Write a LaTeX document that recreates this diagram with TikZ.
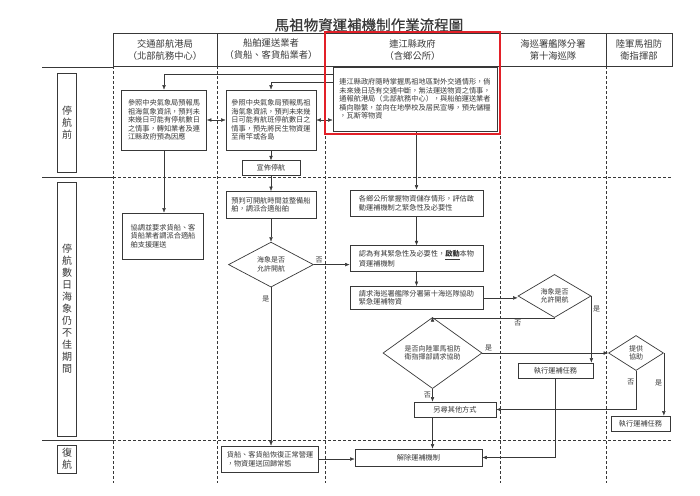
\documentclass[tikz,border=0pt]{standalone}
\usepackage{fontspec}
\setmainfont{Noto Sans CJK TC}
\usepackage{tikz}
\usetikzlibrary{shapes.geometric, arrows.meta, positioning}
\definecolor{ink}{gray}{0.22}
\definecolor{hilite}{RGB}{226,32,40}

\begin{document}
\begin{tikzpicture}[x=1pt, y=-1pt, color=ink,
    >={Latex[length=4.5pt, width=3.6pt]},
    box/.style={draw, line width=0.7pt, inner sep=2pt, align=left, font=\fontsize{7.2}{8.6}\selectfont},
    decision/.style={diamond, draw, line width=0.7pt, inner sep=0pt, align=center, font=\fontsize{7}{8.6}\selectfont},
    head/.style={draw, line width=0.8pt, outer sep=0pt, minimum height=33pt, align=center, font=\fontsize{9.3}{12}\selectfont},
    phase/.style={draw, line width=0.8pt, minimum width=19pt, align=center, font=\fontsize{10}{12}\selectfont},
    lane/.style={line width=0.7pt, dash pattern=on 3pt off 2pt},
    tag/.style={font=\fontsize{7}{8}\selectfont, inner sep=1.5pt}]
			\useasboundingbox (0,0) rectangle (700,495);
			
			% Title
			\node[font=\fontsize{14.5}{16}\selectfont\addfontfeature{FakeBold=0.6}] (title) at (369, 25) {馬祖物資運補機制作業流程圖};
			
			% Lane heads
			\node[head, minimum width=104pt] (h1) at (165, 49.5) {交通部航港局\\（北部航務中心）};
			\node[head, minimum width=108pt] (h2) at (271, 49.5) {船舶運送業者\\（貨船、客貨船業者）};
			\node[head, minimum width=175pt] (h3) at (412.5, 49.5) {連江縣政府\\（含鄉公所）};
			\node[head, minimum width=106pt] (h4) at (553, 49.5) {海巡署艦隊分署\\第十海巡隊};
			\node[head, minimum width=66pt] (h5) at (639, 49.5) {陸軍馬祖防\\衛指揮部};
			
			% Phases
			\node[phase, minimum height=99pt] (p1) at (67, 122.5) {停\\航\\前};
			\node[phase, minimum height=254pt] (p2) at (67, 309) {停\\航\\數\\日\\海\\象\\仍\\不\\佳\\期\\間};
			\node[phase, minimum height=28pt] (p3) at (67, 459) {復\\航};
			
			% Rules and lanes
			\draw[line width=0.7pt] (42, 67) -- (113, 67);
			\draw[line width=0.7pt] (42, 177) -- (113, 177);
			\draw[line width=0.7pt] (42, 440) -- (113, 440);
			\draw[lane] (113, 177) -- (672, 177);
			\draw[lane] (113, 440) -- (672, 440);
			\draw[lane] (113, 66) -- (113, 483);
			\draw[lane] (217, 66) -- (217, 483);
			\draw[lane] (325, 66) -- (325, 483);
			\draw[lane] (500, 66) -- (500, 483);
			\draw[lane] (606, 66) -- (606, 483);
			
			% Before suspension
			\node[box, minimum width=164pt, minimum height=64pt] (jt) at (415, 99) {連江縣政府隨時掌握馬祖地區對外交通情形，倘\\未來幾日恐有交通中斷，無法運送物資之情事，\\通報航港局（北部航務中心），與船舶運送業者\\橫向聯繫，並向在地學校及居民宣導，預先儲糧\\，瓦斯等物資};
			\node[box, minimum width=85pt, minimum height=60pt] (b1) at (164, 120) {參照中央氣象局預報馬\\祖海氣象資訊，預判未\\來幾日可能有停航數日\\之情事，轉知業者及連\\江縣政府預為因應};
			\node[box, minimum width=90pt, minimum height=60pt] (b2) at (271, 120) {參照中央氣象局預報馬祖\\海氣象資訊，預判未來幾\\日可能有航班停航數日之\\情事，預先將民生物資運\\至南竿或各島};
			\node[box, minimum width=58pt, minimum height=15pt, below=10pt of b2] (stop) {宣佈停航};
			
			% During suspension
			\node[box, minimum width=81pt, minimum height=46pt] (coord) at (163, 236) {協調並要求貨船、客\\貨船業者調派合適船\\舶支援運送};
			\node[box, minimum width=90pt, minimum height=27pt, below=15pt of stop] (pre) {預判可開航時間並整備船\\舶，調派合適船舶};
			\node[decision, minimum width=85pt, minimum height=45pt, below=23pt of pre] (d1) {海象是否\\允許開航};
			\node[box, minimum width=133pt, minimum height=26pt] (town) at (416.5, 203) {各鄉公所掌握物資儲存情形，評估啟\\動運補機制之緊急性及必要性};
			\node[box, minimum width=133pt, minimum height=26pt, below=29pt of town] (start) {認為有其緊急性及必要性，\textbf{\underline{啟動}}本物\\資運補機制};
			\node[box, minimum width=133pt, minimum height=23pt, below=14pt of start] (ask) {請求海巡署艦隊分署第十海巡隊協助\\緊急運補物資};
			\node[decision, minimum width=73pt, minimum height=43pt] (d2) at (554.5, 296) {海象是否\\允許開航};
			\node[decision, minimum width=99pt, minimum height=41pt] (d3) at (432.5, 353) {是否向陸軍馬祖防\\衛指揮部請求協助};
			\node[decision, minimum width=55pt, minimum height=35pt] (d4) at (636, 353) {提供\\協助};
			\node[box, minimum width=75pt, minimum height=15pt] (run1) at (555.5, 370.5) {執行運補任務};
			\node[box, minimum width=59pt, minimum height=15pt] (run2) at (640.5, 423.5) {執行運補任務};
			\node[box, minimum width=82pt, minimum height=15pt] (other) at (455, 409.5) {另尋其他方式};
			
			% Resumption
			\node[box, minimum width=97pt, minimum height=26pt] (resume) at (270, 459) {貨船、客貨船恢復正常營運\\，物資運送回歸常態};
			\node[box, minimum width=127pt, minimum height=17pt] (end) at (418.5, 457.5) {解除運補機制};
			
			% Connections
			\draw[->] ([yshift=25pt]jt.west) -| (b1.north);
			\draw[->] ([yshift=17pt]jt.west) -| (b2.north);
			\draw[<->] (b1.east) -- (b2.west);
			\draw[<->] (b2.east) -- (b2.east -| jt.west);
			\draw[->] (b2) -- (stop);
			\draw[->] (stop) -- (pre);
			\draw[->] (b1.south) -- (b1.south |- coord.north);
			\draw[->] (pre) -- (d1);
			\draw[->] (d1.east) -- (d1.east -| start.west) node[tag, pos=0.15, above] {否};
			\draw[->] (d1.south) -- (d1.south |- resume.north) node[tag, pos=0.07, left] {是};
			\draw[->] (jt.south -| town.north) -- (town.north);
			\draw[->] (town) -- (start);
			\draw[->] (start) -- (ask);
			\draw[->] (ask.east) -- (ask.east -| d2.west);
			\draw[->] (d2.south) -| (d3.north) node[tag, pos=0.15, below] {否};
			\draw[->] (d2.east) -- (d2.east |- run1.north) node[tag, pos=0.2, right] {是};
			\draw[->] (d3.east) -- (d4.west) node[tag, pos=0.05, above] {是};
			\draw[->] (d3.south) -- (d3.south |- other.north) node[tag, midway, left] {否};
			\draw[->] (d3.south |- other.south) -- (d3.south |- end.north);
			\draw[->] (d4.south) |- (other.east) node[tag, pos=0.15, left] {否};
			\draw[->] (d4.east) -- (d4.east |- run2.north) node[tag, pos=0.48, left] {是};
			\draw[->] (run1.south) |- (end.east);
			\draw[->] (resume.east) -- (resume.east -| end.west);
			
			% Highlight
			\draw[draw=hilite, line width=2pt] (325, 32) rectangle (500, 134);
		\end{tikzpicture}
\end{document}
